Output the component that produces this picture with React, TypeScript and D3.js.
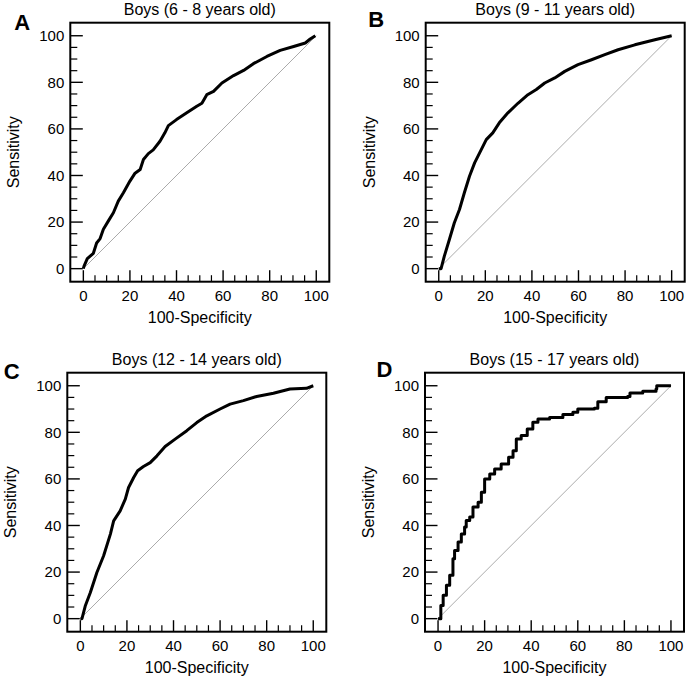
import React from "react";
import * as d3 from "d3";

// panel titles and letters
const titles = [
  "Boys (6 - 8 years old)",
  "Boys (9 - 11 years old)",
  "Boys (12 - 14 years old)",
  "Boys (15 - 17 years old)",
];
const letters = ["A", "B", "C", "D"];

const majorTicks = [0, 20, 40, 60, 80, 100];
const minorTicks = [5, 10, 15, 25, 30, 35, 45, 50, 55, 65, 70, 75, 85, 90, 95];

// ROC points (100-specificity, sensitivity)
const fprA = [0, 0.3, 1.7, 4.3, 5.7, 7.2, 8.6, 10.7, 12.9, 15, 17.2, 20, 22.2, 24.4, 25.8, 27.9, 30, 32.9, 35, 36.5, 40, 44.4, 48.7, 50.9, 53, 55.9, 59.5, 64.5, 68.8, 73, 78.8, 84.5, 90.3, 95.3, 97.4, 99.6];
const sensA = [0, 1.1, 4.3, 6.6, 11, 12.9, 16.9, 20.4, 24, 29, 32.6, 37.6, 41, 42.6, 46.9, 49.4, 51, 54.7, 58.3, 61.4, 64, 66.9, 69.7, 71, 74.7, 76.1, 79.7, 82.9, 85.1, 88, 91.1, 93.7, 95.4, 96.9, 98.6, 100];

const fprB = [0, 1, 2.4, 4.6, 6.7, 8.9, 11, 13.2, 15.4, 18.2, 20.4, 23.2, 26, 29.7, 34, 38.3, 41.9, 45.5, 49.8, 54.1, 59.8, 65.6, 71.3, 77, 84.2, 92.8, 100];
const sensB = [0, 0, 5.4, 12.6, 19.7, 25.4, 32.6, 39.7, 45.4, 51, 55.4, 58.3, 62.6, 66.9, 71, 74.7, 76.9, 79.7, 81.9, 84.7, 87.6, 89.7, 91.9, 94, 96.1, 98.3, 100];

const fprC = [0, 0.7, 2.1, 4.3, 7.1, 10, 12.9, 14.3, 17.1, 19.3, 20.7, 22.9, 24.6, 27.1, 30, 32.9, 36.4, 40.7, 45.7, 50, 54.3, 60, 64.3, 70, 75.7, 82.9, 90, 97.1, 100];
const sensC = [0, 0, 5.4, 11.2, 19.8, 27, 36.3, 42, 46.3, 51.3, 56.3, 60.6, 63.5, 65.3, 67, 69.9, 73.9, 77.1, 80.7, 84.2, 87.1, 90, 92.1, 93.6, 95.4, 96.8, 98.6, 98.9, 100];

const fprD = [0, 1.2, 2.2, 3.6, 5.0, 6.4, 7.1, 8.6, 10, 11.4, 12.1, 13.6, 15, 17.2, 18.6, 20, 22.2, 24.3, 27.1, 29.3, 30.3, 32.2, 33.6, 35.7, 37.2, 38.3, 40.7, 42.9, 47.9, 53.6, 57.9, 60, 67.1, 68.6, 72.2, 81.4, 82.4, 87.9, 93.6, 93.9, 100];
const sensD = [0, 5.7, 10, 14.3, 18.6, 25.7, 29.3, 32.9, 36.4, 39.3, 42.1, 43.6, 47.9, 50, 54.3, 60, 62.1, 64.3, 66.4, 66.4, 69.3, 72.1, 77.1, 78.6, 78.6, 81.4, 84.3, 85.7, 86.4, 87.6, 88.6, 90, 90.3, 93.1, 95, 95.4, 96.9, 97.6, 98.6, 100, 100];

const series = [
  { fpr: fprA, sens: sensA, step: false },
  { fpr: fprB, sens: sensB, step: false },
  { fpr: fprC, sens: sensC, step: false },
  { fpr: fprD, sens: sensD, step: true },
];

// where each panel box sits, and the letter offset
const boxes = [
  { left: 70.3, top: 22.7, lx: -56, ly: 7.5 },
  { left: 425.7, top: 22.7, lx: -57.5, ly: 4 },
  { left: 67.3, top: 372.7, lx: -63.5, ly: 6 },
  { left: 425, top: 372.7, lx: -48.5, ly: 4 },
];

const SIZE = 259;
const FONT = "'Liberation Sans', Arial, Helvetica, sans-serif";

function Panel({ i }: { i: number }) {
  const b = boxes[i];
  const s = series[i];
  const x = d3.scaleLinear().domain([-5.6, 105.6]).range([b.left, b.left + SIZE]);
  const y = d3.scaleLinear().domain([-5.6, 105.6]).range([b.top + SIZE, b.top]);
  const pts: [number, number][] = s.fpr.map((v, k) => [v, s.sens[k]]);
  const line = d3
    .line<[number, number]>()
    .x(d => x(d[0]))
    .y(d => y(d[1]))
    .curve(s.step ? d3.curveStepAfter : d3.curveLinear);
  const bottom = b.top + SIZE;
  const cx = b.left + SIZE / 2;
  const cy = b.top + SIZE / 2;

  return (
    <g>
      <text x={b.left + b.lx} y={b.top + b.ly} fontSize={22} fontWeight="bold" fontFamily={FONT}>
        {letters[i]}
      </text>
      <text x={cx} y={b.top - 7.7} textAnchor="middle" fontSize={16} fontFamily={FONT}>
        {titles[i]}
      </text>

      {/* ticks pointing inward */}
      {majorTicks.map(t => (
        <g key={"M" + t}>
          <line x1={x(t)} x2={x(t)} y1={bottom} y2={bottom - 11.5} stroke="#000" strokeWidth={1.4} />
          <line x1={b.left} x2={b.left + 12.5} y1={y(t)} y2={y(t)} stroke="#000" strokeWidth={1.4} />
          <text x={x(t)} y={bottom + 19.5} textAnchor="middle" fontSize={15} fontFamily={FONT}>
            {t}
          </text>
          <text x={b.left - 6} y={y(t)} dy="0.36em" textAnchor="end" fontSize={15} fontFamily={FONT}>
            {t}
          </text>
        </g>
      ))}
      {minorTicks.map(t => (
        <g key={"m" + t}>
          <line x1={x(t)} x2={x(t)} y1={bottom} y2={bottom - 6.5} stroke="#000" strokeWidth={1.2} />
          <line x1={b.left} x2={b.left + 7} y1={y(t)} y2={y(t)} stroke="#000" strokeWidth={1.2} />
        </g>
      ))}

      <line x1={x(0)} y1={y(0)} x2={x(100)} y2={y(100)} stroke="#ababab" strokeWidth={1} />
      <path d={line(pts) || ""} fill="none" stroke="#000" strokeWidth={3} strokeLinejoin="round" />

      <rect x={b.left} y={b.top} width={SIZE} height={SIZE} fill="none" stroke="#000" strokeWidth={2} />

      <text x={cx} y={bottom + 41.6} textAnchor="middle" fontSize={16} fontFamily={FONT}>
        100-Specificity
      </text>
      <text
        transform={`translate(${b.left - 51},${cy}) rotate(-90)`}
        textAnchor="middle"
        fontSize={16}
        fontFamily={FONT}
      >
        Sensitivity
      </text>
    </g>
  );
}

export default function App() {
  return (
    <svg
      width={693}
      height={682}
      style={{ position: "absolute", left: 0, top: 0, background: "#fff" }}
    >
      {series.map((_, i) => (
        <Panel key={i} i={i} />
      ))}
    </svg>
  );
}
